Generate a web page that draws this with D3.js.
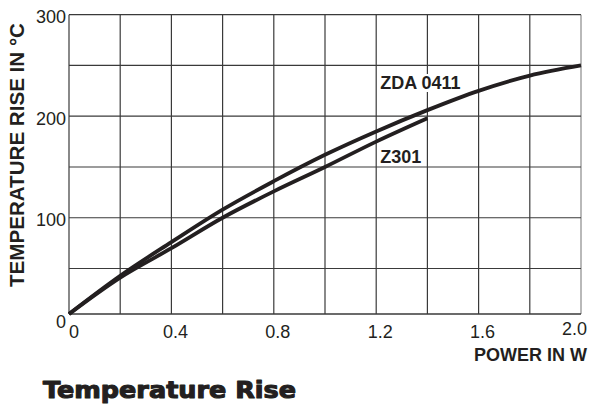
<!DOCTYPE html>
<html>
<head>
<meta charset="utf-8">
<script src="https://cdn.jsdelivr.net/npm/d3@7/dist/d3.min.js"></script>
<style>
  html, body { margin: 0; padding: 0; background: #fff; }
  svg { display: block; }
  text { font-family: "Liberation Sans", Arial, Helvetica, sans-serif; fill: #231f20; }
</style>
</head>
<body>
<svg id="chart" width="603" height="410"></svg>
<script>
// ---- data ----
const powerW = [0, 0.2, 0.4, 0.6, 0.8, 1.0, 1.2, 1.4, 1.6, 1.8, 2.0];
const zda0411 = [0, 42, 76, 108, 136, 162, 185, 206, 225, 240, 250];
const powerZ301 = [0, 0.2, 0.4, 0.6, 0.8, 1.0, 1.2, 1.4];
const z301 = [0, 40, 70, 100, 126, 150, 175, 198];
const xTickValues = [0, 0.4, 0.8, 1.2, 1.6, 2.0];
const xTickLabels = ["0", "0.4", "0.8", "1.2", "1.6", "2.0"];
const yTickValues = [0, 100, 200, 300];
const yTickLabels = ["0", "100", "200", "300"];
const xGridValues = [0, 0.2, 0.4, 0.6, 0.8, 1.0, 1.2, 1.4, 1.6, 1.8, 2.0];
const yGridValues = [0, 50, 100, 150, 200, 250, 300];
const seriesNames = ["ZDA 0411", "Z301"];
const xTitle = "POWER IN W";
const yTitle = "TEMPERATURE RISE IN \u00B0C";
const chartTitle = "Temperature Rise";

// ---- scales ----
const svg = d3.select("#chart");
const x = d3.scaleLinear().domain([0, 2]).range([69, 581]);
const y = d3.scaleLinear().domain([0, 50, 300]).range([314, 268.5, 14.7]);
const yLab = d3.scaleLinear().domain([0, 300]).range([319.5, 15]);

// ---- grid ----
const grid = svg.append("g").attr("stroke", "#3a3a3a").attr("stroke-width", 1.2);
grid.selectAll("line.v").data(xGridValues).join("line")
  .attr("x1", d => x(d)).attr("x2", d => x(d))
  .attr("y1", y(0)).attr("y2", y(300))
  .attr("stroke", (d, i) => i === xGridValues.length - 1 ? "#8a8a8a" : "#3a3a3a");
grid.selectAll("line.h").data(yGridValues).join("line")
  .attr("x1", x(0)).attr("x2", x(2))
  .attr("y1", d => y(d)).attr("y2", d => y(d))
  .attr("stroke-width", d => d === 0 ? 1.6 : 1.2);

// ---- curves ----
const line = d3.line().x(d => x(d[0])).y(d => y(d[1])).curve(d3.curveMonotoneX);
const series = [
  powerW.map((p, i) => [p, zda0411[i]]),
  powerZ301.map((p, i) => [p, z301[i]])
];
svg.append("g").selectAll("path").data(series).join("path")
  .attr("d", line)
  .attr("fill", "none")
  .attr("stroke", "#231f20")
  .attr("stroke-width", 3.8);

// ---- series labels with white background ----
const labelPos = [[1.2, 89], [1.2, 163]];
seriesNames.forEach((name, i) => {
  const g = svg.append("g");
  const t = g.append("text")
    .attr("x", x(labelPos[i][0]) + 4)
    .attr("y", labelPos[i][1])
    .attr("font-size", 18).attr("font-weight", "bold")
    .text(name);
  const bb = t.node().getBBox();
  g.insert("rect", "text")
    .attr("x", bb.x - 2).attr("y", bb.y + 1)
    .attr("width", bb.width + 4).attr("height", bb.height - 2)
    .attr("fill", "#fff");
});

// ---- tick labels ----
svg.append("g").selectAll("text").data(xTickValues).join("text")
  .attr("x", (d, i) => i === 0 ? x(d) : (i === xTickValues.length - 1 ? x(d) + 6 : x(d) + 4))
  .attr("y", (d, i) => i === xTickValues.length - 1 ? 335 : 338)
  .attr("text-anchor", (d, i) => i === 0 ? "start" : (i === xTickValues.length - 1 ? "end" : "middle"))
  .attr("font-size", 18)
  .text((d, i) => xTickLabels[i]);

svg.append("g").selectAll("text").data(yTickValues).join("text")
  .attr("x", 66)
  .attr("y", d => yLab(d) + 8)
  .attr("text-anchor", "end")
  .attr("font-size", 18)
  .text((d, i) => yTickLabels[i]);

// ---- axis titles ----
svg.append("text")
  .attr("x", 587).attr("y", 361)
  .attr("text-anchor", "end")
  .attr("font-size", 18).attr("font-weight", "bold")
  .text(xTitle);

svg.append("text")
  .attr("transform", "translate(24,155) rotate(-90)")
  .attr("text-anchor", "middle")
  .attr("font-size", 20).attr("font-weight", "bold")
  .attr("textLength", 264).attr("lengthAdjust", "spacingAndGlyphs")
  .text(yTitle);

// ---- chart title ----
svg.append("text")
  .attr("x", 43).attr("y", 398)
  .attr("font-size", 23).attr("font-weight", "bold")
  .attr("stroke", "#231f20").attr("stroke-width", 1.1).attr("stroke-linejoin", "round")
  .attr("textLength", 253).attr("lengthAdjust", "spacingAndGlyphs")
  .style("font-family", "'DejaVu Sans', sans-serif")
  .text(chartTitle);
</script>
</body>
</html>
